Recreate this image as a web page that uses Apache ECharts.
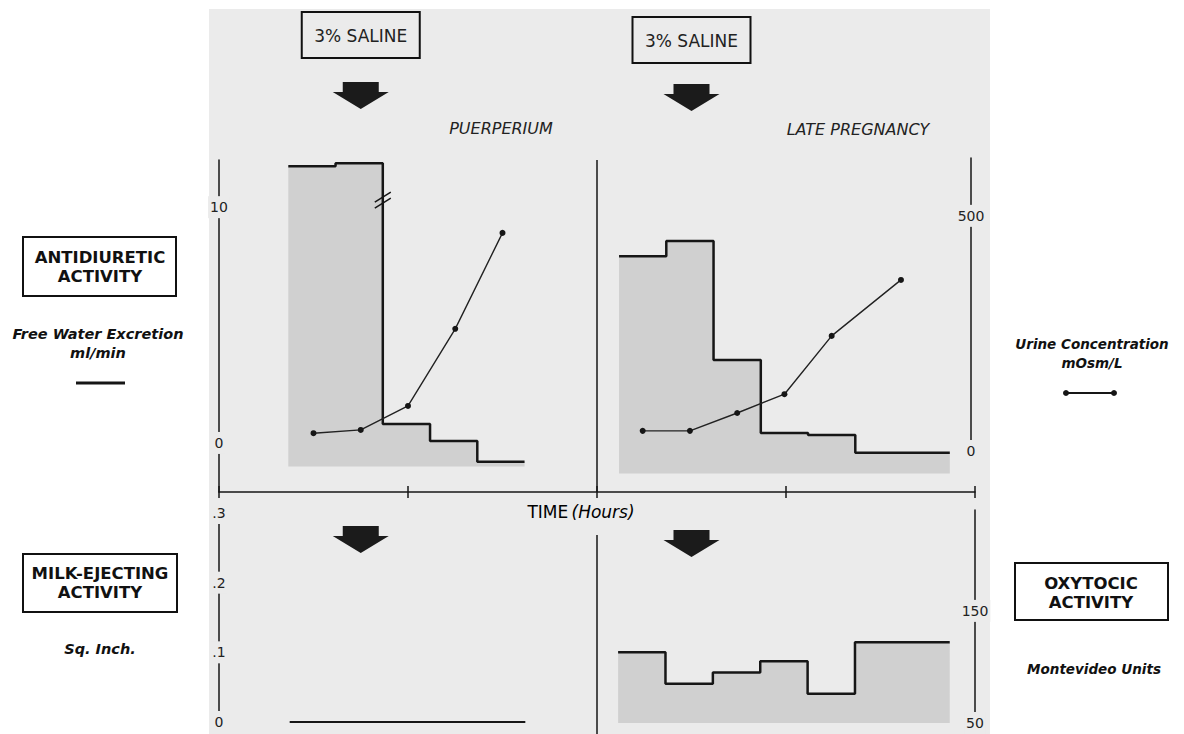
<!DOCTYPE html>
<html>
<head>
<meta charset="utf-8">
<title>Antidiuretic, milk-ejecting and oxytocic activity</title>
<script src="https://cdn.jsdelivr.net/npm/echarts@6/dist/echarts.min.js"></script>
<style>
  html, body { margin: 0; padding: 0; background: #fff; }
  #chart { width: 1184px; height: 734px; }
</style>
</head>
<body>
<div id="chart"></div>
<script>
// time is in minutes along the shared TIME axis (one tick = 1 hour)
var hourTicks = [0, 60, 120, 180, 240];
var salineTimes = [45, 150];
var periodDivide = 120;

// free water excretion, ml/min : step edges + one value per period
var fwePuerEdges = [22, 37, 52, 67, 82, 97];
var fwePuer = [11.74, 11.86, 0.8, 0.08, -0.8];
var fwePregEdges = [127, 142, 157, 172, 187, 202, 232];
var fwePreg = [7.92, 8.56, 3.52, 0.42, 0.34, -0.42];

// urine concentration, mOsm/L
var urinePuerTimes = [30, 45, 60, 75, 90];
var urinePuer = [38, 45, 96, 260, 464];
var urinePregTimes = [134.5, 149.5, 164.5, 179.5, 194.5, 216.5];
var urinePreg = [43, 43, 81, 121, 245, 364];

// milk-ejecting activity, sq. inch
var milkTimes = [22.5, 97.5];
var milk = [0, 0];

// oxytocic activity, Montevideo units
var oxyEdges = [127, 142, 157, 172, 187, 202, 232];
var oxy = [113, 85, 95, 105, 76, 122];

// tick labels
var fweTicks = [0, 10];
var osmTicks = [0, 500];
var milkTicks = [0, 0.1, 0.2, 0.3];
var oxyTicks = [50, 150];

var PAPER = "#ebebeb";
var INK = "#161616";
var FILL = "#d0d0d0";
var FONT = "DejaVu Sans";

function stepData(edges, vals) {
  var out = vals.map(function (v, i) { return [edges[i], v]; });
  out.push([edges[edges.length - 1], vals[vals.length - 1]]);
  return out;
}
function pairs(xs, ys) {
  return xs.map(function (x, i) { return [x, ys[i]]; });
}

var chart = echarts.init(document.getElementById("chart"), null, { renderer: "svg" });

var tickLabel = {
  align: "center",
  margin: 0,
  fontSize: 14,
  fontFamily: FONT,
  color: "#222",
  backgroundColor: PAPER,
  padding: [4, 2],
};
var axisInk = { show: true, onZero: false, lineStyle: { color: INK, width: 1.5 } };

var option = {
  animation: false,
  backgroundColor: "#fff",
  grid: [
    { left: 219, right: 209, top: 160, bottom: 242 },   // top row, both periods
    { left: 219, width: 377, top: 513, height: 209 },   // milk-ejecting
    { left: 596, width: 379, top: 510, height: 217 },   // oxytocic
    { left: 970, width: 1, top: 158, height: 293 },     // mOsm scale bar
  ],
  xAxis: [
    {
      gridIndex: 0, type: "value", position: "bottom", min: 0, max: 240, interval: 60,
      axisLine: axisInk,
      axisTick: { show: true, length: 6, lineStyle: { color: INK, width: 1.5 } },
      axisLabel: { show: false }, splitLine: { show: false },
    },
    {
      gridIndex: 0, type: "value", position: "bottom", min: 0, max: 240, interval: 60,
      axisLine: { show: false, onZero: false },
      axisTick: { show: true, inside: true, length: 6, lineStyle: { color: INK, width: 1.5 } },
      axisLabel: { show: false }, splitLine: { show: false },
    },
    { gridIndex: 1, type: "value", min: 0, max: 120, show: false },
    { gridIndex: 2, type: "value", min: 120, max: 240, show: false },
    { gridIndex: 3, type: "value", min: 0, max: 1, show: false },
  ],
  yAxis: [
    {
      gridIndex: 0, type: "value", position: "left", min: -2.08, max: 12,
      axisLine: axisInk, axisTick: { show: false }, splitLine: { show: false },
      axisLabel: Object.assign({ customValues: fweTicks }, tickLabel),
    },
    { gridIndex: 0, type: "value", position: "right", min: -87, max: 619, show: false },
    {
      gridIndex: 1, type: "value", position: "left", min: 0, max: 0.3,
      axisLine: axisInk, axisTick: { show: false }, splitLine: { show: false },
      axisLabel: Object.assign({
        customValues: milkTicks,
        formatter: function (v) { return v === 0 ? "0" : String(v).replace(/^0/, ""); },
      }, tickLabel),
    },
    {
      gridIndex: 2, type: "value", position: "right", min: 50, max: 240,
      axisLine: axisInk, axisTick: { show: false }, splitLine: { show: false },
      axisLabel: Object.assign({ customValues: oxyTicks }, tickLabel),
    },
    {
      gridIndex: 3, type: "value", position: "right", min: 0, max: 623,
      axisLine: axisInk, axisTick: { show: false }, splitLine: { show: false },
      axisLabel: Object.assign({ customValues: osmTicks }, tickLabel),
    },
  ],
  series: [
    {
      name: "Free Water Excretion (puerperium)",
      type: "line", step: "end", xAxisIndex: 0, yAxisIndex: 0,
      data: stepData(fwePuerEdges, fwePuer),
      symbol: "none",
      lineStyle: { color: INK, width: 2.5 },
      areaStyle: { color: FILL, opacity: 1, origin: -1 },
      markLine: {
        silent: true, symbol: ["none", "none"], label: { show: false },
        lineStyle: { color: INK, type: "solid", width: 1.5 },
        data: [{ xAxis: periodDivide }],
      },
      markPoint: {
        silent: true,
        symbol: "path://M0,10 L16,0 M0,16 L16,6",
        symbolSize: [16, 16],
        itemStyle: { color: "none", borderColor: INK, borderWidth: 1.5 },
        label: { show: false },
        data: [{ coord: [fwePuerEdges[2], 10.3] }],
      },
    },
    {
      name: "Free Water Excretion (late pregnancy)",
      type: "line", step: "end", xAxisIndex: 0, yAxisIndex: 0,
      data: stepData(fwePregEdges, fwePreg),
      symbol: "none",
      lineStyle: { color: INK, width: 2.5 },
      areaStyle: { color: FILL, opacity: 1, origin: -1.3 },
    },
    {
      name: "Urine Concentration (puerperium)",
      type: "line", xAxisIndex: 0, yAxisIndex: 1,
      data: pairs(urinePuerTimes, urinePuer),
      symbol: "circle", symbolSize: 6, showSymbol: true,
      itemStyle: { color: INK },
      lineStyle: { color: "#222", width: 1.4 },
    },
    {
      name: "Urine Concentration (late pregnancy)",
      type: "line", xAxisIndex: 0, yAxisIndex: 1,
      data: pairs(urinePregTimes, urinePreg),
      symbol: "circle", symbolSize: 6, showSymbol: true,
      itemStyle: { color: INK },
      lineStyle: { color: "#222", width: 1.4 },
    },
    {
      name: "Milk-ejecting activity",
      type: "line", xAxisIndex: 2, yAxisIndex: 2,
      data: pairs(milkTimes, milk),
      symbol: "none",
      lineStyle: { color: INK, width: 2 },
    },
    {
      name: "Oxytocic activity",
      type: "line", step: "end", xAxisIndex: 3, yAxisIndex: 3,
      data: stepData(oxyEdges, oxy),
      symbol: "none",
      lineStyle: { color: INK, width: 2.5 },
      areaStyle: { color: FILL, opacity: 1, origin: "start" },
    },
  ],
};

chart.setOption(option);

// ---- annotations (boxes, captions, arrows) ----
function txt(text, x, y, font, extra) {
  return {
    type: "text", x: x, y: y, silent: true,
    style: Object.assign({ text: text, font: font, fill: "#111", align: "center", verticalAlign: "middle" }, extra || {}),
  };
}
function box(x, y, w, h) {
  return {
    type: "rect", silent: true,
    shape: { x: x, y: y, width: w, height: h },
    style: { fill: "none", stroke: "#111", lineWidth: 2 },
  };
}
function line(x1, y1, x2, y2, w) {
  return {
    type: "line", silent: true,
    shape: { x1: x1, y1: y1, x2: x2, y2: y2 },
    style: { stroke: INK, lineWidth: w },
  };
}
function arrow(cx, top) {
  var pts = [[-18, 0], [18, 0], [18, 10], [28, 10], [0, 27], [-28, 10], [-18, 10]];
  return {
    type: "polygon", silent: true,
    shape: { points: pts.map(function (p) { return [cx + p[0], top + p[1]]; }) },
    style: { fill: "#1b1b1b" },
  };
}

var boldCaps = "bold 16.5px '" + FONT + "'";
var boldItal = "italic bold 14.5px '" + FONT + "'";
var boldItalR = "italic bold 13.5px '" + FONT + "'";

var graphics = [
  { type: "rect", z: -100, silent: true, shape: { x: 209, y: 9, width: 781, height: 725 }, style: { fill: PAPER } },

  box(23, 237, 153, 59),
  txt("ANTIDIURETIC", 100, 257, boldCaps),
  txt("ACTIVITY", 100, 276, boldCaps),
  txt("Free Water Excretion", 98, 334, boldItal),
  txt("ml/min", 98, 353, boldItal),
  line(76, 383, 125, 383, 3),

  box(23, 554, 154, 58),
  txt("MILK-EJECTING", 100, 573, boldCaps),
  txt("ACTIVITY", 100, 592, boldCaps),
  txt("Sq. Inch.", 100, 649, boldItal),

  txt("Urine Concentration", 1092, 344, boldItalR),
  txt("mOsm/L", 1092, 363, boldItalR),
  line(1066, 393, 1114, 393, 2),
  { type: "circle", silent: true, shape: { cx: 1066, cy: 393, r: 3 }, style: { fill: INK } },
  { type: "circle", silent: true, shape: { cx: 1114, cy: 393, r: 3 }, style: { fill: INK } },

  box(1015, 563, 153, 57),
  txt("OXYTOCIC", 1091, 583, boldCaps),
  txt("ACTIVITY", 1091, 602, boldCaps),
  txt("Montevideo Units", 1094, 669, boldItalR),

  txt("PUERPERIUM", 501, 128, "italic 16px '" + FONT + "'", { fill: "#222" }),
  txt("LATE PREGNANCY", 858, 129, "italic 16px '" + FONT + "'", { fill: "#222" }),
  {
    type: "text", x: 581, y: 512, silent: true,
    style: {
      text: "{a|TIME} {b|(Hours)}", align: "center", verticalAlign: "middle",
      rich: {
        a: { fontFamily: FONT, fontSize: 17, color: "#222" },
        b: { fontFamily: FONT, fontSize: 17, fontStyle: "italic", color: "#222" },
      },
    },
  },
  line(597, 535, 597, 734, 1.5),
];

var boxTop = [12, 17];
var topArrow = [82, 84];
var lowArrow = [526, 530];
salineTimes.forEach(function (t, i) {
  var x = chart.convertToPixel({ xAxisIndex: 0 }, t);
  graphics.push(box(x - 59, boxTop[i], 118, 46));
  graphics.push(txt("3% SALINE", x, boxTop[i] + 24, "17px '" + FONT + "'", { fill: "#222" }));
  graphics.push(arrow(x, topArrow[i]));
  graphics.push(arrow(x, lowArrow[i]));
});

chart.setOption({ graphic: graphics });
</script>
</body>
</html>
